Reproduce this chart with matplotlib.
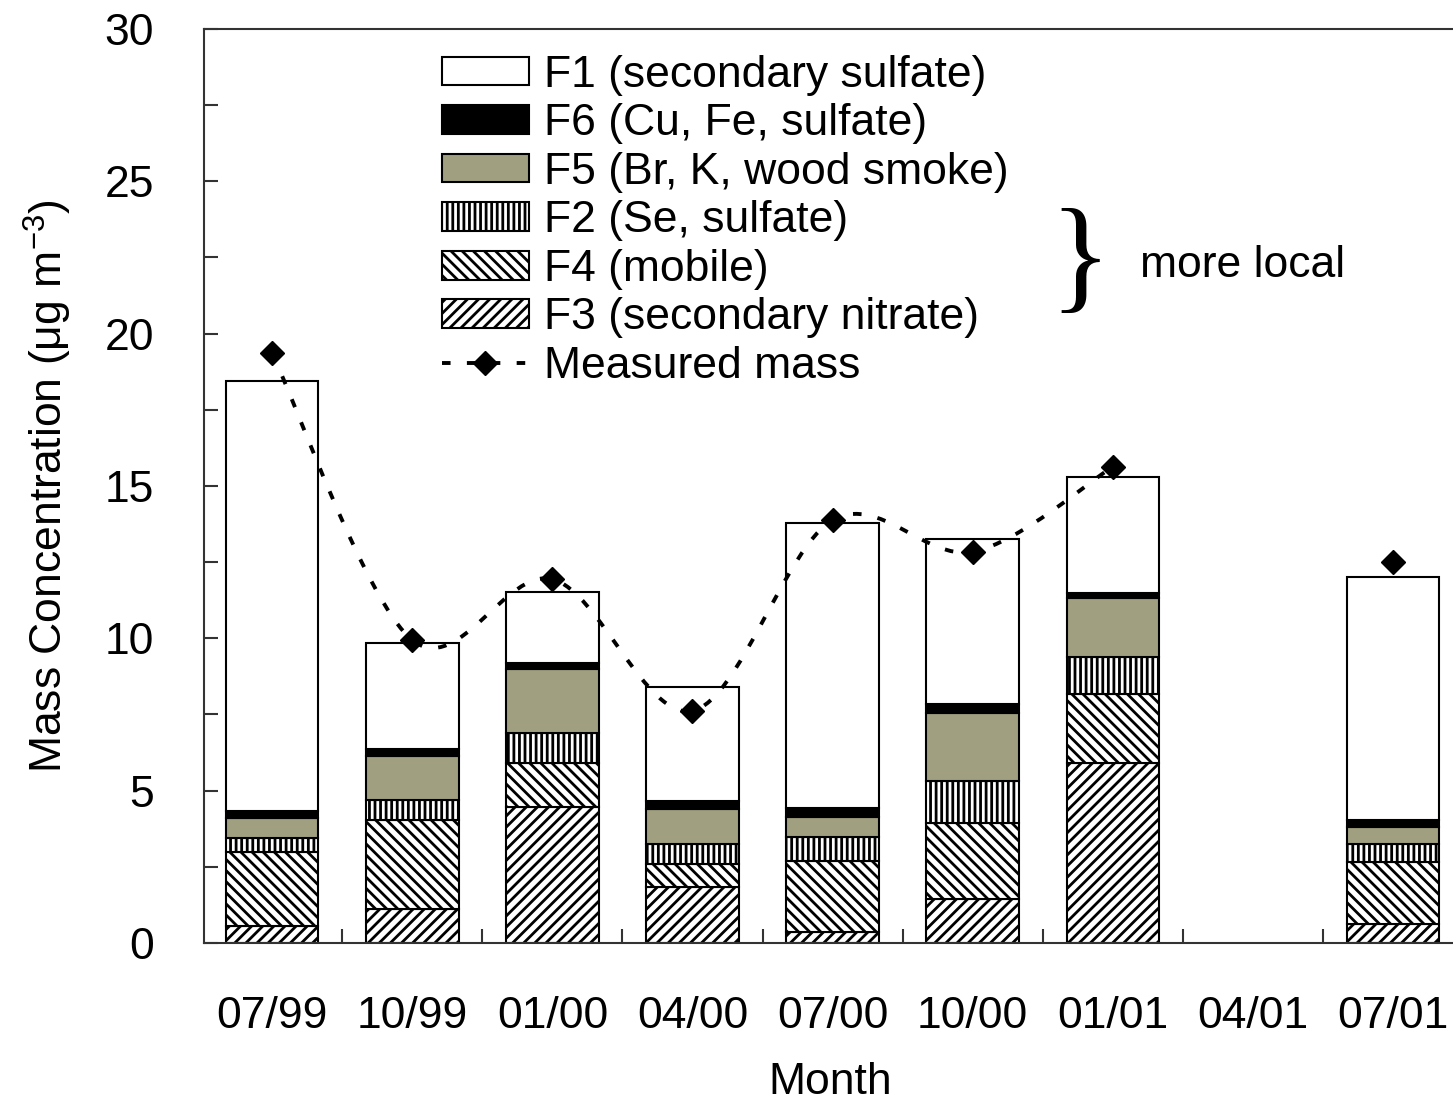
import numpy as np
import matplotlib
matplotlib.use("Agg")
import matplotlib.pyplot as plt
from matplotlib.path import Path
from matplotlib.patches import PathPatch, Patch
from matplotlib.lines import Line2D

plt.rcParams['font.family'] = ['Liberation Sans', 'DejaVu Sans']
plt.rcParams['mathtext.fontset'] = 'custom'
plt.rcParams['mathtext.rm'] = 'Liberation Sans'
plt.rcParams['mathtext.it'] = 'Liberation Sans:italic'
plt.rcParams['hatch.linewidth'] = 2.0

# data (ug/m3)
months = ['07/99', '10/99', '01/00', '04/00', '07/00', '10/00', '01/01', '04/01', '07/01']
nan = np.nan
f3 = [0.56, 1.10, 4.45, 1.85, 0.36, 1.43, 5.90, nan, 0.62]
f4 = [2.44, 2.93, 1.47, 0.73, 2.32, 2.52, 2.27, nan, 2.05]
f2 = [0.46, 0.67, 0.96, 0.66, 0.79, 1.38, 1.23, nan, 0.57]
f5 = [0.64, 1.45, 2.10, 1.17, 0.68, 2.23, 1.92, nan, 0.58]
f6 = [0.22, 0.22, 0.22, 0.26, 0.27, 0.27, 0.16, nan, 0.22]
f1 = [14.13, 3.46, 2.33, 3.74, 9.35, 5.42, 3.80, nan, 7.98]
measured = [19.35, 9.94, 11.94, 7.62, 13.88, 12.84, 15.63, nan, 12.51]

labels = ['F1 (secondary sulfate)', 'F6 (Cu, Fe, sulfate)', 'F5 (Br, K, wood smoke)',
          'F2 (Se, sulfate)', 'F4 (mobile)', 'F3 (secondary nitrate)']
khaki = '#a09f80'

fig = plt.figure(figsize=(14.53, 11.06), dpi=100)
ax = fig.add_axes([0.1404, 0.1474, 0.8626, 0.8264])

x = np.arange(len(months))
w = 0.66
# stacked from the bottom: F3, F4, F2, F5, F6, F1
stack = [(f3, 'white', '///'), (f4, 'white', '\\\\\\'), (f2, 'white', '|||'),
         (f5, khaki, None), (f6, 'black', None), (f1, 'white', None)]
bottom = np.zeros(len(months))
for vals, fc, hatch in stack:
    v = np.array(vals)
    ax.bar(x, v, w, bottom=bottom, color=fc, edgecolor='black', hatch=hatch,
           linewidth=1.5, zorder=2)
    bottom = bottom + v

# smoothed dashed line (Catmull-Rom as cubic bezier) through measured points
m = np.array(measured)
good = ~np.isnan(m)
seg = []
for i in range(len(m)):
    if good[i]:
        seg.append(i)
    else:
        break
pts = np.column_stack([x[seg], m[seg]]).astype(float)
verts = [tuple(pts[0])]
codes = [Path.MOVETO]
n = len(pts)
for i in range(n - 1):
    p0 = pts[max(i - 1, 0)]
    p1 = pts[i]
    p2 = pts[i + 1]
    p3 = pts[min(i + 2, n - 1)]
    c1 = p1 + (p2 - p0) / 6.0
    c2 = p2 - (p3 - p1) / 6.0
    verts += [tuple(c1), tuple(c2), tuple(p2)]
    codes += [Path.CURVE4] * 3
ax.add_patch(PathPatch(Path(verts, codes), fill=False, edgecolor='black',
                       linewidth=2.8, linestyle=(0, (2.2, 4.2)), zorder=3))
ax.plot(x, m, linestyle='none', marker='D', markersize=12, color='black', zorder=4)

ax.set_xlim(-0.487, 8.46)
ax.set_ylim(0, 30)
ax.set_yticks(np.arange(0, 31, 5))
ax.set_yticks(np.arange(0, 30.1, 2.5), minor=True)
ax.set_xticks(x[:-1] + 0.5)
ax.set_xticklabels([])
ax.set_xticks(x, minor=True)
ax.set_xticklabels(months, minor=True)
ax.tick_params(axis='y', which='both', direction='in', length=10, width=1.5,
               labelsize=32, pad=36, color='#333333')
ax.tick_params(axis='x', which='major', direction='in', length=10, width=1.5, color='#333333')
ax.tick_params(axis='x', which='minor', length=0, labelsize=32, pad=38)
for s in ax.spines.values():
    s.set_linewidth(1.5)
    s.set_color('#333333')

ax.set_xlabel('Month', fontsize=32, labelpad=18)
ax.set_ylabel('Mass Concentration (μg m$^{-3}$)', fontsize=32, labelpad=22)

handles = [Patch(facecolor=fc, edgecolor='black', hatch=h, linewidth=1.5)
           for _, fc, h in stack[::-1]]
handles.append(Line2D([], [], color='black', linestyle=(0, (2.2, 4.2)), linewidth=2.8,
                      marker='D', markersize=12))
ax.legend(handles, labels + ['Measured mass'], loc='upper left',
          bbox_to_anchor=(0.1895, 0.972), frameon=False, fontsize=32,
          handlelength=1.96, handleheight=0.62, handletextpad=0.34,
          labelspacing=0.17, borderpad=0, borderaxespad=0)

ax.text(5.77, 22.25, '}', fontsize=92, ha='center', va='center',
        family='Liberation Serif')
ax.text(6.196, 22.25, 'more local', fontsize=32, ha='left', va='center')

fig.savefig('out.png', dpi=100)
